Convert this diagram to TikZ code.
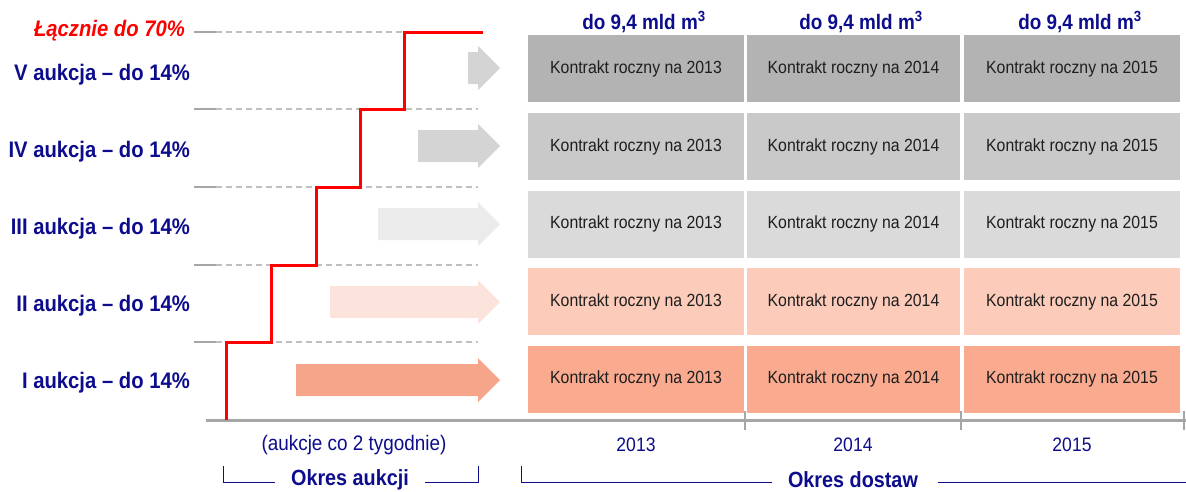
\documentclass[tikz,border=0pt]{standalone}
\usepackage{fontspec}
\setmainfont{Liberation Sans}[FakeStretch=0.9]
\definecolor{navy}{RGB}{12,12,140}
\definecolor{redline}{RGB}{255,0,0}
\definecolor{axisgray}{RGB}{166,166,166}
\definecolor{dashgray}{RGB}{191,191,191}
\definecolor{boxtext}{RGB}{30,30,30}
\definecolor{rowV}{RGB}{179,179,179}
\definecolor{rowIV}{RGB}{201,201,201}
\definecolor{rowIII}{RGB}{218,218,218}
\definecolor{rowII}{RGB}{252,203,186}
\definecolor{rowI}{RGB}{249,170,143}
\definecolor{arrV}{RGB}{212,212,212}
\definecolor{arrIV}{RGB}{212,212,212}
\definecolor{arrIII}{RGB}{235,235,235}
\definecolor{arrII}{RGB}{252,228,220}
\definecolor{arrI}{RGB}{246,164,138}
\begin{document}
\begin{tikzpicture}[x=1pt,y=-1pt,
  lbl/.style={font=\fontsize{22.5}{26}\selectfont\bfseries, text=navy, anchor=east, inner sep=0pt},
  boxnode/.style={minimum width=216pt, minimum height=67pt, inner sep=0pt, font=\fontsize{17.6}{20}\selectfont, text=boxtext},
  head/.style={font=\fontsize{21}{24}\selectfont\bfseries, text=navy, inner sep=0pt},
  year/.style={font=\fontsize{19.5}{22}\selectfont, text=navy, inner sep=0pt},
  period/.style={font=\fontsize{22}{25}\selectfont\bfseries, text=navy, inner sep=0pt},
  bracket/.style={draw=navy, line width=1pt},
  gridsolid/.style={draw=axisgray, line width=2.5pt},
  griddash/.style={draw=dashgray, line width=1.2pt, dash pattern=on 6pt off 4pt},
  axisline/.style={draw=axisgray, line width=3pt},
  stepline/.style={draw=redline, line width=3pt}]
\useasboundingbox (0,0) rectangle (1186,491);

% grid lines
\foreach \y in {32,109,187,265,342}{
  \draw[gridsolid] (194,\y) -- (216,\y);
  \draw[griddash] (216,\y) -- (478,\y);
}

% arrows
\foreach \xs/\yc/\col in {296/380/arrI, 330/302/arrII, 378/224/arrIII, 418/146/arrIV, 468/68/arrV}{
  \fill[\col] (\xs,\yc-16) -- (478,\yc-16) -- (478,\yc-22) -- (500,\yc) -- (478,\yc+22) -- (478,\yc+16) -- (\xs,\yc+16) -- cycle;
}

% boxes
\foreach \r/\yc/\col in {V/68.5/rowV, IV/146.5/rowIV, III/224/rowIII, II/301.5/rowII, I/379/rowI}{
  \node[boxnode, fill=\col] (b\r a) at (636,\yc) {Kontrakt roczny na 2013};
  \node[boxnode, fill=\col, minimum width=213pt] (b\r b) at (853.5,\yc) {Kontrakt roczny na 2014};
  \node[boxnode, fill=\col] (b\r c) at (1072,\yc) {Kontrakt roczny na 2015};
}

% headers
\node[head] (h1) at (644,22) {do 9,4 mld m\textsuperscript{3}};
\node[head] (h2) at (861,22) {do 9,4 mld m\textsuperscript{3}};
\node[head] (h3) at (1080,22) {do 9,4 mld m\textsuperscript{3}};

% left labels
\node[lbl, text=redline, font=\fontsize{22.5}{26}\selectfont\bfseries\itshape] (total) at (185,31) {Łącznie do 70\%};
\node[lbl] (l5) at (190,75) {V aukcja – do 14\%};
\node[lbl] (l4) at (190,152) {IV aukcja – do 14\%};
\node[lbl] (l3) at (190,229) {III aukcja – do 14\%};
\node[lbl] (l2) at (190,306) {II aukcja – do 14\%};
\node[lbl] (l1) at (190,383) {I aukcja – do 14\%};

% axis
\draw[axisline] (206,420) -- (1186,420);
\foreach \x in {745,961,1184}{
  \draw[draw=axisgray, line width=2pt] (\x,411) -- (\x,430);
}

% red step line
\draw[stepline] (226,420) |- (271,342) |- (316,265) |- (360,187) |- (404,109) |- (483,32);

% bottom texts
\node[year, font=\fontsize{21}{24}\selectfont] (freq) at (354,445) {(aukcje co 2 tygodnie)};
\node[year] (y1) at (636,445) {2013};
\node[year] (y2) at (853,445) {2014};
\node[year] (y3) at (1072,445) {2015};

\node[period] (pa) at (350,480) {Okres aukcji};
\node[period] (pd) at (853,480) {Okres dostaw};
\coordinate (pa1) at (223,466);
\coordinate (pa2) at (478,466);
\coordinate (pd1) at (521,466);
\coordinate (pd2) at (1186,482);
\draw[bracket] (pa1) |- ([xshift=-16pt]pa.west |- 0,482);
\draw[bracket] (pa2) |- ([xshift=16pt]pa.east |- 0,482);
\draw[bracket] (pd1) |- ([xshift=-16pt]pd.west |- 0,482);
\draw[bracket] ([xshift=20pt]pd.east |- 0,482) -- (pd2);
\end{tikzpicture}
\end{document}
